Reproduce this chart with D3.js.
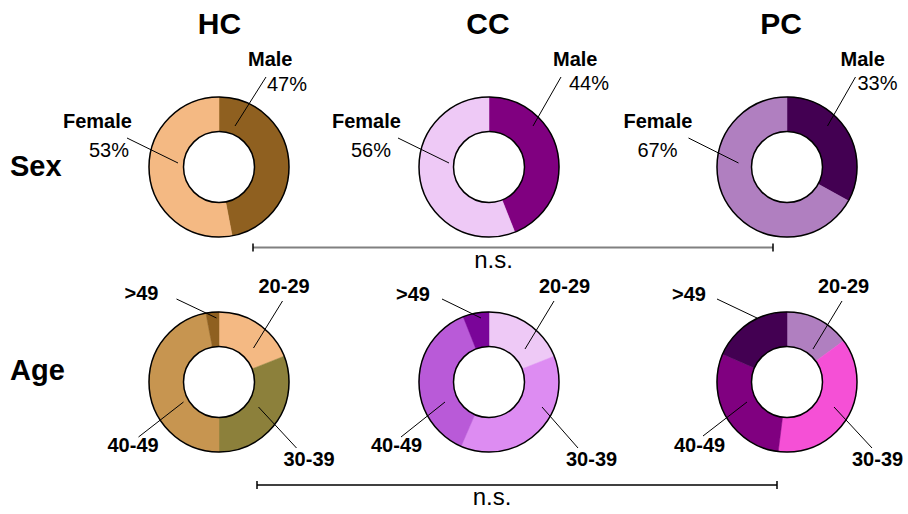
<!DOCTYPE html>
<html>
<head>
<meta charset="utf-8">
<script src="https://cdn.jsdelivr.net/npm/d3@7"></script>
<style>
  html, body { margin: 0; padding: 0; background: #fff; }
  svg { display: block; font-family: "Liberation Sans", Arial, sans-serif; }
</style>
</head>
<body>
<svg id="chart" width="908" height="514"></svg>
<script>
// ---------------- DATA ----------------
const groups = ["HC", "CC", "PC"];
const sexCategories = ["Male", "Female"];
const sexMale = [47, 44, 33];
const sexFemale = [53, 56, 67];
const ageCategories = ["20-29", "30-39", "40-49", ">49"];
const age2029 = [19, 19, 15];
const age3039 = [31, 37.5, 37];
const age4049 = [47, 37.5, 29.5];
const ageOver49 = [3, 6, 18.5];
const rowLabels = ["Sex", "Age"];
const sigLabel = "n.s.";

// ---------------- STYLE / LAYOUT ----------------
const sexColors = {
  HC: ["#8F6020", "#F4B983"],
  CC: ["#800080", "#EEC9F6"],
  PC: ["#430052", "#B07FC0"]
};
const ageColors = {
  HC: ["#F4B983", "#8C803B", "#C79550", "#8F6020"],
  CC: ["#EEC9F6", "#DD8CF2", "#B95AD8", "#7A0599"],
  PC: ["#B07FC0", "#F550D6", "#800080", "#430052"]
};
const centersX = [219, 489, 787];
const titleX = [219.5, 488, 781];
const sexY = 167, ageY = 382;
const rOuter = 70, rInner = 35.5;

// label layout, offsets relative to donut centre: [textX, textY, anchor, lineX1, lineY1, lineX2, lineY2]
const sexLabelLayout = [
  { // HC
    Male:   {name: [29, -101], pct: [48, -76], line: [47, -90, 16, -41]},
    Female: {name: [-156, -39], pct: [-130, -10], line: [-92, -29, -41, -4]}
  },
  { // CC
    Male:   {name: [64, -101], pct: [80, -77], line: [72, -90, 44, -41]},
    Female: {name: [-157, -39], pct: [-138, -10], line: [-91, -29, -40, -4]}
  },
  { // PC
    Male:   {name: [53.5, -101], pct: [70.5, -77], line: [68.5, -90, 40.5, -41]},
    Female: {name: [-163.5, -39], pct: [-149.5, -10], line: [-98.5, -29, -48.5, -4]}
  }
];
const ageLabelLayout = [
  { // HC
    "20-29": {t: [39.5, -89], line: [63.5, -81, 34.5, -34]},
    "30-39": {t: [64.5, 84], line: [77.5, 66, 39.5, 25]},
    "40-49": {t: [-111.5, 70], line: [-80.5, 55, -35.5, 20]},
    ">49":   {t: [-94.5, -82], line: [-42.5, -83, -2.5, -64]}
  },
  { // CC
    "20-29": {t: [50, -89], line: [65, -81, 36, -33]},
    "30-39": {t: [77, 84], line: [89, 66, 53, 25]},
    "40-49": {t: [-118, 70], line: [-88, 55, -44, 20]},
    ">49":   {t: [-93, -81], line: [-47, -83, -8, -64]}
  },
  { // PC
    "20-29": {t: [31, -89], line: [55, -81, 26, -33]},
    "30-39": {t: [65, 84], line: [85, 66, 47, 25]},
    "40-49": {t: [-113, 70], line: [-84, 54, -40, 20]},
    ">49":   {t: [-115, -81], line: [-70, -83, -30, -64]}
  }
];

const svg = d3.select("#chart");
const pie = d3.pie().sort(null).value(d => d.value);
const arc = d3.arc().innerRadius(rInner).outerRadius(rOuter);

function drawDonut(cx, cy, values, cats, colors) {
  const g = svg.append("g").attr("transform", `translate(${cx},${cy})`);
  const data = cats.map((c, i) => ({cat: c, value: values[i]}));
  g.selectAll("path.slice").data(pie(data)).join("path")
    .attr("class", "slice")
    .attr("d", arc)
    .attr("fill", (d, i) => colors[i])
    .attr("stroke", (d, i) => colors[i])
    .attr("stroke-width", 0.5);
  g.append("circle").attr("r", rOuter).attr("fill", "none").attr("stroke", "#000").attr("stroke-width", 1.5);
  g.append("circle").attr("r", rInner).attr("fill", "#fff").attr("stroke", "#000").attr("stroke-width", 1.5);
  return g;
}

// titles
svg.selectAll("text.title").data(groups).join("text")
  .attr("class", "title")
  .attr("x", (d, i) => titleX[i]).attr("y", 34)
  .attr("text-anchor", "middle")
  .attr("font-size", 30).attr("font-weight", "bold")
  .text(d => d);

// row labels
svg.append("text").attr("x", 10).attr("y", 176).attr("font-size", 29).attr("font-weight", "bold").text(rowLabels[0]);
svg.append("text").attr("x", 10).attr("y", 380).attr("font-size", 29).attr("font-weight", "bold").text(rowLabels[1]);

groups.forEach((grp, gi) => {
  const cx = centersX[gi];
  // Sex donut
  const sexVals = [sexMale[gi], sexFemale[gi]];
  const gs = drawDonut(cx, sexY, sexVals, sexCategories, sexColors[grp]);
  sexCategories.forEach((cat, ci) => {
    const L = sexLabelLayout[gi][cat];
    gs.append("line")
      .attr("x1", L.line[0]).attr("y1", L.line[1]).attr("x2", L.line[2]).attr("y2", L.line[3])
      .attr("stroke", "#000").attr("stroke-width", 1);
    gs.append("text").attr("x", L.name[0]).attr("y", L.name[1])
      .attr("font-size", 20).attr("font-weight", "bold").text(cat);
    gs.append("text").attr("x", L.pct[0]).attr("y", L.pct[1])
      .attr("font-size", 20).text(sexVals[ci] + "%");
  });

  // Age donut
  const ageVals = [age2029[gi], age3039[gi], age4049[gi], ageOver49[gi]];
  const ga = drawDonut(cx, ageY, ageVals, ageCategories, ageColors[grp]);
  ageCategories.forEach(cat => {
    const L = ageLabelLayout[gi][cat];
    ga.append("line")
      .attr("x1", L.line[0]).attr("y1", L.line[1]).attr("x2", L.line[2]).attr("y2", L.line[3])
      .attr("stroke", "#000").attr("stroke-width", 1);
    ga.append("text").attr("x", L.t[0]).attr("y", L.t[1])
      .attr("font-size", 20).attr("font-weight", "bold").text(cat);
  });
});

// significance brackets
function bracket(x1, x2, y, color, textY, textX) {
  svg.append("line").attr("x1", x1).attr("x2", x2).attr("y1", y).attr("y2", y)
    .attr("stroke", color).attr("stroke-width", 2);
  [x1, x2].forEach(x => {
    svg.append("line").attr("x1", x).attr("x2", x).attr("y1", y - 4).attr("y2", y + 4)
      .attr("stroke", "#000").attr("stroke-width", 1.5);
  });
  svg.append("text").attr("x", textX).attr("y", textY).attr("text-anchor", "middle")
    .attr("font-size", 24).text(sigLabel);
}
bracket(253, 773, 247.5, "#808080", 268, 493.5);
bracket(257, 777, 485, "#404040", 505, 492);
</script>
</body>
</html>
